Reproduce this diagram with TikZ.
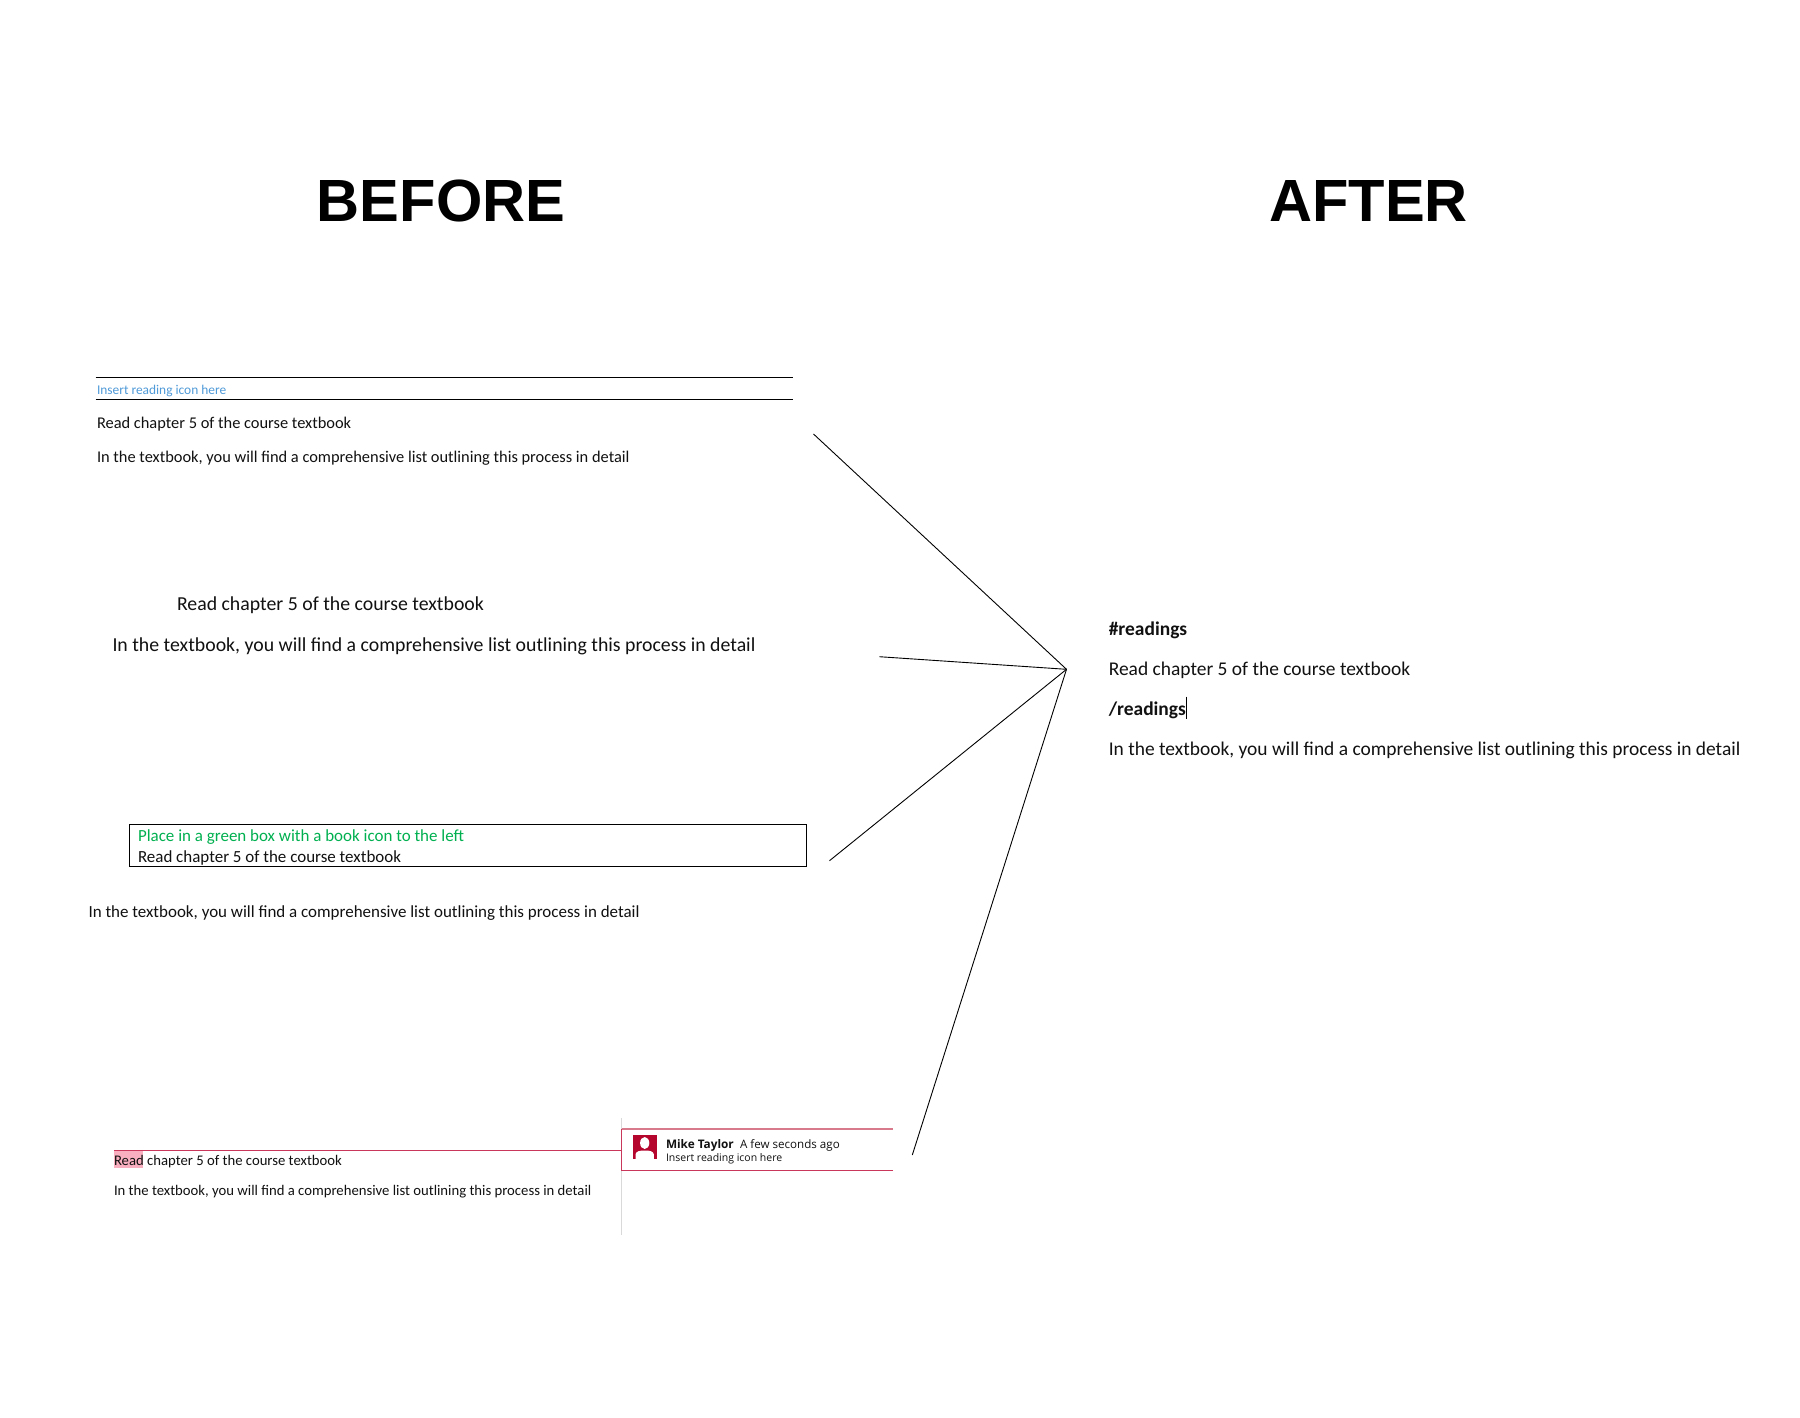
\documentclass[tikz,border=0pt]{standalone}
\usepackage{fontspec}
\setmainfont{Carlito}
\newfontfamily\headfont{Liberation Sans}
\newfontfamily\uifont{Open Sans}
\definecolor{inkblack}{HTML}{111111}
\definecolor{noteblue}{HTML}{4F9AD8}
\definecolor{notegreen}{HTML}{00B050}
\definecolor{crimson}{HTML}{C9385A}
\definecolor{crimsonlight}{HTML}{D87A8C}
\definecolor{icondark}{HTML}{B5062E}
\definecolor{markpink}{HTML}{F9AFBF}
\definecolor{railgray}{HTML}{D9D9D9}
\newcommand{\fs}[1]{\fontsize{#1}{#1}\selectfont}
\tikzset{
  txt/.style={inner sep=0pt,outer sep=0pt,anchor=base west,text=inkblack},
  head/.style={inner sep=0pt,outer sep=0pt,anchor=base,font=\headfont\bfseries\fs{59.6},text=black},
  conn/.style={draw=black,line width=0.9pt},
  rule/.style={draw=black,line width=0.95pt},
  redline/.style={draw=crimson,line width=1.1pt},
}
\begin{document}
\begin{tikzpicture}[x=1pt,y=-1pt]
\useasboundingbox (0,0) rectangle (1800,1417);
\fill[white] (0,0) rectangle (1800,1417);
% headings
\node[head] (before) at (441,221) {BEFORE};
\node[head] (after) at (1368.5,221) {AFTER};
% variant 1
\coordinate (r1a) at (95.5,377.5); \coordinate (r1b) at (792.5,377.5);
\coordinate (r2a) at (95.5,399.5); \coordinate (r2b) at (792.5,399.5);
\draw[rule] (r1a) -- (r1b);
\draw[rule] (r2a) -- (r2b);
\node[txt,text=noteblue,font=\fs{13.4}] (v1note) at (97,394) {Insert reading icon here};
\node[txt,font=\fs{16.4}] (v1read) at (97,428.7) {Read chapter 5 of the course textbook};
\node[txt,font=\fs{16.4}] (v1in) at (97,462) {In the textbook, you will find a comprehensive list outlining this process in detail};
% variant 2
\node[txt,font=\fs{19.8}] (v2read) at (177,610.6) {Read chapter 5 of the course textbook};
\node[txt,font=\fs{19.8}] (v2in) at (112.5,651.5) {In the textbook, you will find a comprehensive list outlining this process in detail};
% variant 3
\draw[rule] (129.5,824.5) rectangle (806.5,866.5);
\node[txt,text=notegreen,font=\fs{16.97}] (v3note) at (138,841.7) {Place in a green box with a book icon to the left};
\node[txt,font=\fs{16.97}] (v3read) at (138,862.7) {Read chapter 5 of the course textbook};
\node[txt,font=\fs{16.97}] (v3in) at (88.5,917.7) {In the textbook, you will find a comprehensive list outlining this process in detail};
% variant 4
\fill[markpink] (114,1150.7) rectangle (143,1168);
\draw[railgray,line width=1.2pt] (621.5,1118) -- (621.5,1235);
\draw[redline] (114,1150.7) -- (621.5,1150.7);
\node[txt,font=\fs{14.7}] (v4read) at (114,1165.5) {Read chapter 5 of the course textbook};
\node[txt,font=\fs{14.7}] (v4in) at (114,1195.3) {In the textbook, you will find a comprehensive list outlining this process in detail};
% comment balloon
\draw[crimsonlight,line width=1.8pt] (621.5,1129) -- (893,1129);
\draw[redline] (893,1170.7) -- (621.5,1170.7) -- (621.5,1129);
\fill[icondark] (632.7,1135) rectangle (656.7,1159);
\fill[white] (644.7,1143) ellipse (4.6 and 6);
\fill[white] (635.5,1159) -- (635.5,1154.5) .. controls (636,1151) and (640,1150.5) .. (644.7,1150.5) .. controls (649.5,1150.5) and (653.4,1151) .. (653.9,1154.5) -- (653.9,1159) -- cycle;
\node[txt,font=\uifont\bfseries\fs{11.8}] (cname) at (666,1148.2) {Mike Taylor};
\node[txt,font=\uifont\fs{11.6}] (ctime) at (740,1148.2) {A few seconds ago};
\node[txt,font=\uifont\fs{10.5}] (cbody) at (666,1161.3) {Insert reading icon here};
% after
\node[txt,font=\bfseries\fs{19.45}] (a1) at (1108.8,635.3) {\#readings};
\node[txt,font=\fs{19.45}] (a2) at (1108.8,675.7) {Read chapter 5 of the course textbook};
\node[txt,font=\bfseries\fs{19.45}] (a3) at (1108.8,715.3) {/readings};
\draw[black,line width=0.8pt] (1186.6,696.7) -- (1186.6,719);
\node[txt,font=\fs{19.45}] (a4) at (1108.8,755.3) {In the textbook, you will find a comprehensive list outlining this process in detail};
% connectors
\coordinate (apex) at (1066.5,669.3);
\coordinate (c1) at (813.5,434);
\coordinate (c2) at (879.4,656.7);
\coordinate (c3) at (829.5,860.7);
\coordinate (c4) at (912.3,1155);
\draw[conn] (c1) -- (apex);
\draw[conn] (c2) -- (apex);
\draw[conn] (c3) -- (apex);
\draw[conn] (c4) -- (apex);
\end{tikzpicture}
\end{document}
